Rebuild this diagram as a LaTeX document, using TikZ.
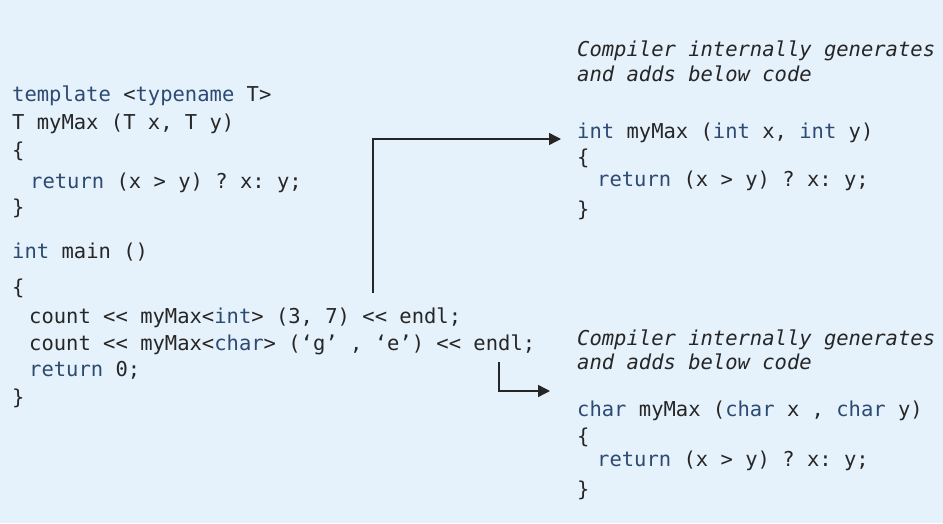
\documentclass[tikz,border=0pt]{standalone}
\usepackage{fontspec}
\setmonofont{DejaVu Sans Mono}
\usetikzlibrary{arrows.meta}
\definecolor{bgc}{HTML}{E5F1FB}
\definecolor{kw}{HTML}{2C4A72}
\definecolor{txt}{HTML}{262626}
\newcommand{\kwd}[1]{\textcolor{kw}{#1}}
\tikzset{
  code/.style={anchor=base west, inner sep=0pt, text=txt,
    font=\ttfamily\fontsize{20.5}{24}\selectfont},
  note/.style={code, font=\ttfamily\itshape\fontsize{20.5}{24}\selectfont},
  conn/.style={draw=txt, line width=1.4pt, -{Triangle[length=12pt,width=12pt]}}
}
\begin{document}
\begin{tikzpicture}[x=1pt,y=-1pt]
\fill[bgc] (0,0) rectangle (943,523);
\useasboundingbox (0,0) rectangle (943,523);
% left code
\node[code] (l1) at (12,101) {\kwd{template} <\kwd{typename} T>};
\node[code] (l2) at (12,129) {T myMax (T x, T y)};
\node[code] (l3) at (12,157) {\{};
\node[code] (l4) at (30,188) {\kwd{return} (x > y) ? x: y;};
\node[code] (l5) at (12,214) {\}};
\node[code] (l6) at (12,258.5) {\kwd{int} main ()};
\node[code] (l7) at (12,294) {\{};
\node[code] (l8) at (29,323) {count << myMax<\kwd{int}> (3, 7) << endl;};
\node[code] (l9) at (29,350) {count << myMax<\kwd{char}> (‘g’ , ‘e’) << endl;};
\node[code] (l10) at (29,376) {\kwd{return} 0;};
\node[code] (l11) at (12,404) {\}};
% right top
\node[note] (n1) at (577,56.5) {Compiler internally generates};
\node[note] (n2) at (577,81.5) {and adds below code};
\node[code] (r1) at (577,138) {\kwd{int} myMax (\kwd{int} x, \kwd{int} y)};
\node[code] (r2) at (577,164) {\{};
\node[code] (r3) at (597,186.5) {\kwd{return} (x > y) ? x: y;};
\node[code] (r4) at (577,216) {\}};
% right bottom
\node[note] (m1) at (577,345) {Compiler internally generates};
\node[note] (m2) at (577,369.5) {and adds below code};
\node[code] (s1) at (577,416.5) {\kwd{char} myMax (\kwd{char} x , \kwd{char} y)};
\node[code] (s2) at (577,443) {\{};
\node[code] (s3) at (597,466.5) {\kwd{return} (x > y) ? x: y;};
\node[code] (s4) at (577,496) {\}};
% connectors
\coordinate (a1s) at (373,293);
\coordinate (a1e) at (561,139);
\coordinate (a2s) at (499,362);
\coordinate (a2e) at (550,391);
\draw[conn] (a1s) |- (a1e);
\draw[conn] (a2s) |- (a2e);
\end{tikzpicture}
\end{document}
